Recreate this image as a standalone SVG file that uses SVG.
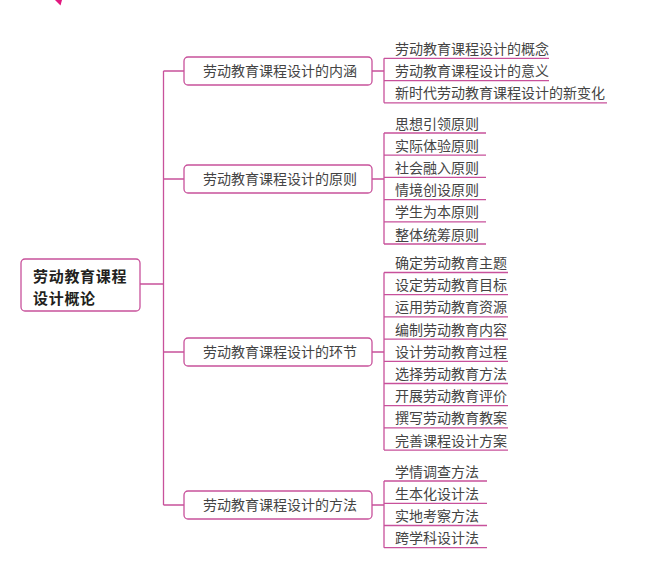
<svg xmlns="http://www.w3.org/2000/svg" width="647" height="572" viewBox="0 0 647 572">
<style>
.ln{fill:none;stroke:#c8519b;stroke-width:1.3}
.box{fill:#fff;stroke:#c8519b;stroke-width:1.3}
.t{font-family:"Noto Sans CJK SC","Noto Sans",sans-serif;font-size:14px;fill:#444}
.tc{text-anchor:middle}
.root{font-family:"Noto Sans CJK SC","Noto Sans",sans-serif;font-size:15px;letter-spacing:0.7px;font-weight:bold;fill:#231f20}
</style>
<rect width="647" height="572" fill="#fff"/>
<path d="M55,0 L62,0 L60.5,5.5 Z" fill="#e2187f"/>
<g id="connectors">
<path class="ln" d="M140,284 H163.5 M163.5,71 V505 M163.5,71 H184 M163.5,179 H184 M163.5,352 H184 M163.5,505 H184"/>
<path class="ln" d="M372,71 H384 M384,58.3 V102.8 M384,58.3 H549 M384,80.6 H549 M384,102.8 H607"/>
<path class="ln" d="M372,179 H384 M384,133 V244 M384,133 H486 M384,155.2 H486 M384,177.4 H486 M384,199.6 H486 M384,221.8 H486 M384,244 H486"/>
<path class="ln" d="M372,352 H384 M384,272.5 V450.1 M384,272.5 H508 M384,294.7 H508 M384,316.9 H508 M384,339.1 H508 M384,361.3 H508 M384,383.5 H508 M384,405.7 H508 M384,427.9 H508 M384,450.1 H508"/>
<path class="ln" d="M372,505 H384 M384,481 V547.7 M384,481 H487 M384,503.3 H487 M384,525.5 H487 M384,547.7 H487"/>
</g>
<g id="root">
<rect class="box" x="21" y="259" width="119" height="52" rx="4"/>
<text class="root" x="33" y="282">劳动教育课程</text>
<text class="root" x="33" y="304">设计概论</text>
</g>
<g id="b1">
<rect class="box" x="184" y="57" width="188" height="28" rx="4"/>
<text class="t tc" x="280" y="76">劳动教育课程设计的内涵</text>
</g>
<g id="b2">
<rect class="box" x="184" y="165" width="188" height="28" rx="4"/>
<text class="t tc" x="280" y="184">劳动教育课程设计的原则</text>
</g>
<g id="b3">
<rect class="box" x="184" y="338" width="188" height="28" rx="4"/>
<text class="t tc" x="280" y="357">劳动教育课程设计的环节</text>
</g>
<g id="b4">
<rect class="box" x="184" y="491" width="188" height="28" rx="4"/>
<text class="t tc" x="280" y="510">劳动教育课程设计的方法</text>
</g>
<g id="g1">
<text class="t" x="395" y="53.5">劳动教育课程设计的概念</text>
<text class="t" x="395" y="76">劳动教育课程设计的意义</text>
<text class="t" x="395" y="98.3">新时代劳动教育课程设计的新变化</text>
</g>
<g id="g2">
<text class="t" x="395" y="128.5">思想引领原则</text>
<text class="t" x="395" y="150.7">实际体验原则</text>
<text class="t" x="395" y="172.9">社会融入原则</text>
<text class="t" x="395" y="195.1">情境创设原则</text>
<text class="t" x="395" y="217.3">学生为本原则</text>
<text class="t" x="395" y="239.5">整体统筹原则</text>
</g>
<g id="g3">
<text class="t" x="395" y="268">确定劳动教育主题</text>
<text class="t" x="395" y="290.2">设定劳动教育目标</text>
<text class="t" x="395" y="312.4">运用劳动教育资源</text>
<text class="t" x="395" y="334.6">编制劳动教育内容</text>
<text class="t" x="395" y="356.8">设计劳动教育过程</text>
<text class="t" x="395" y="379">选择劳动教育方法</text>
<text class="t" x="395" y="401.2">开展劳动教育评价</text>
<text class="t" x="395" y="423.4">撰写劳动教育教案</text>
<text class="t" x="395" y="445.6">完善课程设计方案</text>
</g>
<g id="g4">
<text class="t" x="395" y="476.5">学情调查方法</text>
<text class="t" x="395" y="498.8">生本化设计法</text>
<text class="t" x="395" y="521">实地考察方法</text>
<text class="t" x="395" y="543.2">跨学科设计法</text>
</g>
</svg>
